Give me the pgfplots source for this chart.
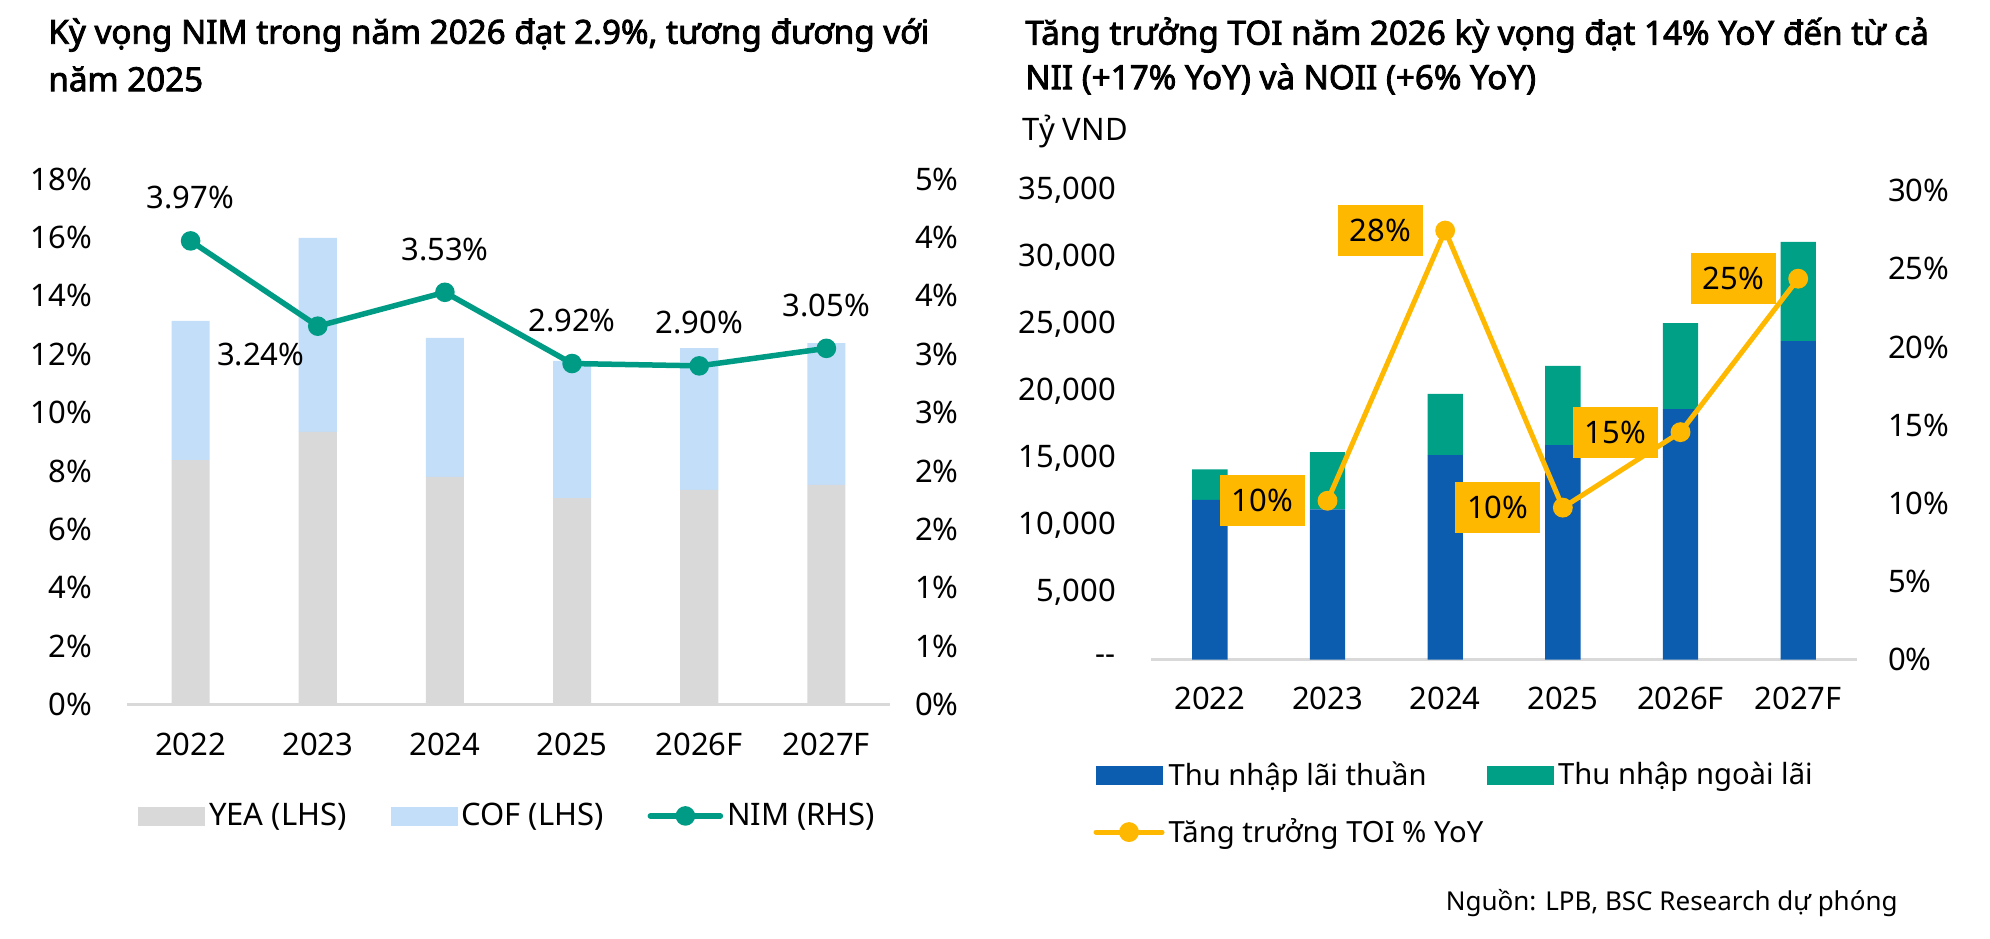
\documentclass[border=0pt]{standalone}
\usepackage{pgfplots}
\pgfplotsset{compat=1.18}
\usepackage{fontspec}
\setmainfont{Noto Sans}[AutoFakeBold=2.5]
\definecolor{yeagray}{HTML}{D9D9D9}
\definecolor{cofblue}{HTML}{C2DEF9}
\definecolor{nimteal}{HTML}{009B84}
\definecolor{niiblue}{HTML}{0C5DAF}
\definecolor{noiigreen}{HTML}{00A086}
\definecolor{toiyellow}{HTML}{FFB800}
\newcommand{\fs}{\fontsize{15.5}{18.6}\selectfont}
\newcommand{\fsl}{\fontsize{14.6}{17.5}\selectfont}
\newcommand{\fst}{\fontsize{16.6}{19.9}\selectfont}
\pgfplotsset{
  base/.style={
    scale only axis, anchor=south west, clip=false,
    xmin=-0.5, xmax=5.5,
    axis line style={draw=none}, major tick length=0pt,
    tick label style={font=\fs, text=black},
    /pgf/number format/assume math mode=true,
    scaled y ticks=false,
  },
}
\begin{document}
\begin{tikzpicture}
\path[use as bounding box] (0,0) rectangle (995pt,-469pt);
% titles
\node[anchor=west, inner sep=0pt, font=\bfseries\fst] at (24pt,-17.5pt) {Kỳ vọng NIM trong năm 2026 đạt 2.9\%, tương đương với};
\node[anchor=west, inner sep=0pt, font=\bfseries\fst] at (24pt,-39.5pt) {năm 2025};
\node[anchor=west, inner sep=0pt, font=\bfseries\fst] at (512.5pt,-17.5pt) {Tăng trưởng TOI năm 2026 kỳ vọng đạt 14\% YoY đến từ cả};
\node[anchor=west, inner sep=0pt, font=\bfseries\fst] at (512.5pt,-39.5pt) {NII (+17\% YoY) và NOII (+6\% YoY)};
\node[anchor=west, inner sep=0pt, font=\fs] at (511pt,-65.5pt) {Tỷ VND};
\node[anchor=east, inner sep=0pt, font=\fontsize{13}{15.6}\selectfont] at (949pt,-451.5pt) {Nguồn: LPB, BSC Research dự phóng};

% ---------------- left chart: bars ----------------
\begin{axis}[base,
  at={(63.5pt,-352.25pt)}, width=381.5pt, height=262.75pt,
  ymin=0, ymax=18, ytick={0,2,4,6,8,10,12,14,16,18},
  yticklabels={0\%,2\%,4\%,6\%,8\%,10\%,12\%,14\%,16\%,18\%},
  yticklabel style={xshift=-14pt},
  xtick={0,1,2,3,4,5}, xticklabels={2022,2023,2024,2025,2026F,2027F},
  xticklabel style={yshift=-10.5pt},
  ybar stacked, bar width=0.3,
]
\addplot[fill=yeagray, draw=none] coordinates {(0,8.37) (1,9.34) (2,7.80) (3,7.07) (4,7.35) (5,7.52)};
\addplot[fill=cofblue, draw=none] coordinates {(0,4.77) (1,6.64) (2,4.76) (3,4.70) (4,4.86) (5,4.86)};
\draw[yeagray, line width=1.5pt] (axis cs:-0.5,0) -- (axis cs:5.5,0);
\end{axis}
% ---------------- left chart: NIM line ----------------
\begin{axis}[base,
  at={(63.5pt,-352.25pt)}, width=381.5pt, height=262.75pt,
  ymin=0, ymax=4.5, ytick={0,0.5,1,1.5,2,2.5,3,3.5,4,4.5},
  yticklabels={0\%,1\%,1\%,2\%,2\%,3\%,3\%,4\%,4\%,5\%},
  yticklabel pos=right, yticklabel style={xshift=9pt},
  xtick=\empty,
  legend columns=3,
  legend style={at={(0.0144,-0.212)}, anchor=west, draw=none, fill=none,
    inner sep=0pt, font=\fs, nodes={inner xsep=2pt},
    /tikz/every even column/.append style={column sep=20pt}},
]
\addlegendimage{legend image code/.code={\fill[yeagray] (0pt,-4.5pt) rectangle (33pt,4.5pt);}}
\addlegendentry{YEA (LHS)}
\addlegendimage{legend image code/.code={\fill[cofblue] (0pt,-4.5pt) rectangle (33pt,4.5pt);}}
\addlegendentry{COF (LHS)}
\addplot[nimteal, line width=2.75pt, mark=*, mark size=3.5pt,
  legend image code/.code={\draw[nimteal, line width=2.75pt, line cap=round] (0pt,0pt) -- (35pt,0pt); \fill[nimteal] (17.5pt,0pt) circle (3.5pt);},
  nodes near coords, point meta=explicit symbolic,
  every node near coord/.style={anchor=center, yshift=21.5pt, font=\fs, text=black}]
  coordinates {(0,3.97)[3.97\%] (1,3.24)[] (2,3.53)[3.53\%] (3,2.92)[2.92\%] (4,2.90)[2.90\%] (5,3.05)[3.05\%]};
\addlegendentry{NIM (RHS)}
\addplot[draw=none, mark=none, forget plot,
  nodes near coords, point meta=explicit symbolic,
  every node near coord/.style={anchor=center, xshift=-28.5pt, yshift=-14pt, font=\fs, text=black}]
  coordinates {(1,3.24)[3.24\%]};
\end{axis}

% ---------------- right chart: bars ----------------
\begin{axis}[base,
  at={(575.5pt,-329.75pt)}, width=353pt, height=234.4pt,
  ymin=0, ymax=35000, ytick={0,5000,10000,15000,20000,25000,30000,35000},
  yticklabels={{-{}-},{5,000},{10,000},{15,000},{20,000},{25,000},{30,000},{35,000}},
  yticklabel style={xshift=-14pt},
  xtick={0,1,2,3,4,5}, xticklabels={2022,2023,2024,2025,2026F,2027F},
  xticklabel style={yshift=-10pt},
  ybar stacked, bar width=0.3,
]
\addplot[fill=niiblue, draw=none] coordinates {(0,11914) (1,11200) (2,15257) (3,16000) (4,18686) (5,23771)};
\addplot[fill=noiigreen, draw=none] coordinates {(0,2286) (1,4286) (2,4572) (3,5914) (4,6428) (5,7400)};
\draw[yeagray, line width=1.5pt] (axis cs:-0.5,0) -- (axis cs:5.5,0);
\end{axis}
% ---------------- right chart: TOI growth line ----------------
\begin{axis}[base,
  at={(575.5pt,-329.75pt)}, width=353pt, height=234.4pt,
  ymin=0, ymax=30, ytick={0,5,10,15,20,25,30},
  yticklabels={0\%,5\%,10\%,15\%,20\%,25\%,30\%},
  yticklabel pos=right, yticklabel style={xshift=12pt},
  xtick=\empty,
  legend columns=2,
  legend style={at={(-0.082,-0.209)}, anchor=north west, draw=none, fill=none,
    inner sep=0pt, font=\fsl, nodes={inner xsep=2pt},
    /tikz/every even column/.append style={column sep=0pt},
    row sep=11pt},
  legend cell align=left,
]
\addlegendimage{legend image code/.code={\fill[niiblue] (0pt,-4.4pt) rectangle (33pt,4.4pt);}}
\addlegendentry{Thu nhập lãi thuần}
\addlegendimage{legend image code/.code={\fill[noiigreen] (0pt,-4.4pt) rectangle (33pt,4.4pt);}}
\addlegendentry{Thu nhập ngoài lãi}
\addplot[toiyellow, line width=2.5pt, mark=*, mark size=3.7pt,
  legend image code/.code={\draw[toiyellow, line width=2.5pt, line cap=round] (0pt,0pt) -- (33pt,0pt); \fill[toiyellow] (16.5pt,0pt) circle (3.7pt);},
  nodes near coords, point meta=explicit symbolic,
  every node near coord/.style={anchor=east, xshift=-10pt, fill=toiyellow, text=black,
    minimum width=42.5pt, minimum height=25.5pt, inner sep=0pt, font=\fs}]
  coordinates {(1,10.16)[10\%] (2,27.45)[28\%] (3,9.72)[10\%] (4,14.55)[15\%] (5,24.37)[25\%]};
\addlegendentry{Tăng trưởng TOI \% YoY}
\end{axis}
\end{tikzpicture}
\end{document}
